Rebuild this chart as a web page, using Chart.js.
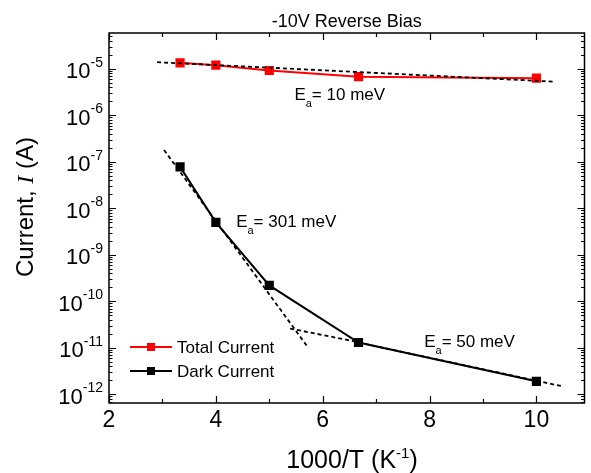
<!DOCTYPE html>
<html lang="en">
<head>
  <meta charset="UTF-8" />
  <title>-10V Reverse Bias</title>
  <style>
    * { margin: 0; padding: 0; box-sizing: border-box; }
    body { background: #fff; width: 591px; height: 473px; overflow: hidden; }
    #chart { display: block; }
  </style>
  <script src="https://cdn.jsdelivr.net/npm/chart.js"></script>
</head>
<body>
  <canvas id="chart" width="591" height="473"></canvas>

  <script>
    // 1000/T values (K^-1), measured at 300, 250, 200, 150, 100 K
    const invTemp = [3.33, 4, 5, 6.67, 10];
    const totalCurrent = [1.35e-5, 1.2e-5, 9.2e-6, 6.8e-6, 6.3e-6];
    const darkCurrent = [7.8e-8, 5e-9, 2.2e-10, 1.3e-11, 1.9e-12];

    // Arrhenius fit lines (dashed), two end points each
    const fitTotalX = [2.9, 10.33];
    const fitTotalY = [1.39e-5, 5.3e-6];
    const fitHighX = [3.03, 5.73];
    const fitHighY = [1.8e-7, 1.0e-11];
    const fitMidX = [5.39, 6.63];
    const fitMidY = [2.6e-11, 1.35e-11];
    const fitLowX = [6.67, 10.47];
    const fitLowY = [1.3e-11, 1.5e-12];

    const xTickLabels = [2, 4, 6, 8, 10];
    const yDecades = [-12, -11, -10, -9, -8, -7, -6, -5];

    // activation energy labels: [x, y, value]
    const eaLabels = [
      [5.47, 2.1e-6, '= 10 meV'],
      [4.38, 4.0e-9, '= 301 meV'],
      [7.9, 1.05e-11, '= 50 meV']
    ];

    const SANS = '"Liberation Sans", Arial, sans-serif';

    function pts(xs, ys) {
      return xs.map((x, i) => ({ x: x, y: ys[i] }));
    }

    function fitSet(xs, ys) {
      return {
        data: pts(xs, ys),
        showLine: true,
        borderColor: '#000',
        borderWidth: 1.8,
        borderDash: [4, 3],
        pointRadius: 0,
        order: 0
      };
    }

    // frame, inward ticks, tick labels for y, titles, legend, annotations
    const decorations = {
      id: 'decorations',
      afterDraw(chart) {
        const ctx = chart.ctx;
        const a = chart.chartArea;
        const xs = chart.scales.x;
        const ys = chart.scales.y;
        ctx.save();
        ctx.strokeStyle = '#000';
        ctx.fillStyle = '#000';

        // frame
        ctx.lineWidth = 1.5;
        ctx.strokeRect(a.left, a.top, a.right - a.left, a.bottom - a.top);

        // x ticks (bottom and top, pointing inward)
        ctx.lineWidth = 1.2;
        for (let v = 2; v <= 10; v++) {
          const px = Math.round(xs.getPixelForValue(v)) + 0.5;
          const len = v % 2 === 0 ? 7 : 4;
          ctx.beginPath();
          ctx.moveTo(px, a.bottom); ctx.lineTo(px, a.bottom - len);
          ctx.moveTo(px, a.top); ctx.lineTo(px, a.top + len);
          ctx.stroke();
        }

        // y ticks (left and right, pointing inward)
        for (let n = -13; n <= -4; n++) {
          for (let k = 1; k <= 9; k++) {
            const v = k * Math.pow(10, n);
            if (v < ys.min || v > ys.max) continue;
            const py = Math.round(ys.getPixelForValue(v)) + 0.5;
            const len = k === 1 ? 7 : 3.5;
            ctx.beginPath();
            ctx.moveTo(a.left, py); ctx.lineTo(a.left + len, py);
            ctx.moveTo(a.right, py); ctx.lineTo(a.right - len, py);
            ctx.stroke();
          }
        }

        // title
        ctx.font = '18px ' + SANS;
        ctx.textAlign = 'center';
        ctx.textBaseline = 'alphabetic';
        ctx.fillText('-10V Reverse Bias', (a.left + a.right) / 2, 27);

        // y tick labels 10^n
        yDecades.forEach(n => {
          const py = ys.getPixelForValue(Math.pow(10, n));
          const exp = String(n);
          ctx.font = '14px ' + SANS;
          const ew = ctx.measureText(exp).width;
          const right = a.left - 6;
          ctx.textAlign = 'left';
          ctx.fillText(exp, right - ew, py - 2);
          ctx.font = '22px ' + SANS;
          ctx.textAlign = 'right';
          ctx.fillText('10', right - ew, py + 9.5);
        });

        // x title: 1000/T (K^-1)
        ctx.textAlign = 'left';
        ctx.font = '25px ' + SANS;
        const t1 = '1000/T (K';
        const w1 = ctx.measureText(t1).width;
        const w3 = ctx.measureText(')').width;
        ctx.font = '15px ' + SANS;
        const w2 = ctx.measureText('-1').width;
        const tx = 352 - (w1 + w2 + w3) / 2;
        const ty = 468;
        ctx.font = '25px ' + SANS;
        ctx.fillText(t1, tx, ty);
        ctx.font = '15px ' + SANS;
        ctx.fillText('-1', tx + w1, ty - 10);
        ctx.font = '25px ' + SANS;
        ctx.fillText(')', tx + w1 + w2, ty);

        // y title: Current, I (A)
        ctx.save();
        ctx.translate(33, 207);
        ctx.rotate(-Math.PI / 2);
        const parts = [
          ['Current, ', '24px ' + SANS],
          ['I', 'italic 24px "Liberation Serif", "Times New Roman", serif'],
          [' (A)', '24px ' + SANS]
        ];
        let total = 0;
        parts.forEach(p => { ctx.font = p[1]; total += ctx.measureText(p[0]).width; });
        let cx = -total / 2;
        parts.forEach(p => {
          ctx.font = p[1];
          ctx.fillText(p[0], cx, 0);
          cx += ctx.measureText(p[0]).width;
        });
        ctx.restore();

        // legend
        const legendItems = [['Total Current', '#ff0000'], ['Dark Current', '#000000']];
        legendItems.forEach((item, i) => {
          const ly = a.bottom - 56 + i * 24;
          const lx = a.left + 21;
          ctx.strokeStyle = item[1];
          ctx.fillStyle = item[1];
          ctx.lineWidth = 2;
          ctx.beginPath();
          ctx.moveTo(lx, ly); ctx.lineTo(lx + 42, ly);
          ctx.stroke();
          ctx.fillRect(lx + 21 - 4, ly - 4, 8, 8);
          ctx.fillStyle = '#000';
          ctx.font = '17px ' + SANS;
          ctx.textAlign = 'left';
          ctx.textBaseline = 'middle';
          ctx.fillText(item[0], lx + 47, ly + 1);
        });

        // activation energy annotations
        ctx.textBaseline = 'alphabetic';
        ctx.fillStyle = '#000';
        eaLabels.forEach(l => {
          const px = xs.getPixelForValue(l[0]);
          const py = ys.getPixelForValue(l[1]);
          ctx.font = '17px ' + SANS;
          ctx.fillText('E', px, py);
          const ew = ctx.measureText('E').width;
          ctx.font = '11px ' + SANS;
          ctx.fillText('a', px + ew, py + 7);
          const aw = ctx.measureText('a').width;
          ctx.font = '17px ' + SANS;
          ctx.fillText(l[2], px + ew + aw, py);
        });

        ctx.restore();
      }
    };

    const ctx = document.getElementById('chart').getContext('2d');
    const chart = new Chart(ctx, {
      type: 'scatter',
      data: {
        datasets: [
          fitSet(fitTotalX, fitTotalY),
          fitSet(fitHighX, fitHighY),
          fitSet(fitMidX, fitMidY),
          fitSet(fitLowX, fitLowY),
          {
            label: 'Total Current',
            data: pts(invTemp, totalCurrent),
            showLine: true,
            borderColor: '#ff0000',
            backgroundColor: '#ff0000',
            borderWidth: 2,
            pointStyle: 'rect',
            pointRadius: 6.5,
            pointBorderWidth: 0,
            order: 1
          },
          {
            label: 'Dark Current',
            data: pts(invTemp, darkCurrent),
            showLine: true,
            borderColor: '#000000',
            backgroundColor: '#000000',
            borderWidth: 2,
            pointStyle: 'rect',
            pointRadius: 6.5,
            pointBorderWidth: 0,
            order: 1
          }
        ]
      },
      options: {
        responsive: false,
        animation: false,
        layout: { padding: { left: 0, right: 3, top: 33, bottom: 0 } },
        scales: {
          x: {
            type: 'linear',
            min: 2,
            max: 10.9,
            grid: { display: false, drawTicks: false },
            border: { display: false },
            afterBuildTicks: s => { s.ticks = xTickLabels.map(v => ({ value: v })); },
            ticks: {
              autoSkip: false,
              maxRotation: 0,
              padding: 4,
              color: '#000',
              font: { family: SANS, size: 23 }
            },
            afterFit: s => { s.height = 70; }
          },
          y: {
            type: 'logarithmic',
            min: 6.5e-13,
            max: 5.9e-5,
            grid: { display: false, drawTicks: false },
            border: { display: false },
            ticks: { display: false },
            afterFit: s => { s.width = 109; }
          }
        },
        plugins: {
          legend: { display: false },
          tooltip: { enabled: false },
          title: { display: false }
        }
      },
      plugins: [decorations]
    });
  </script>
</body>
</html>
